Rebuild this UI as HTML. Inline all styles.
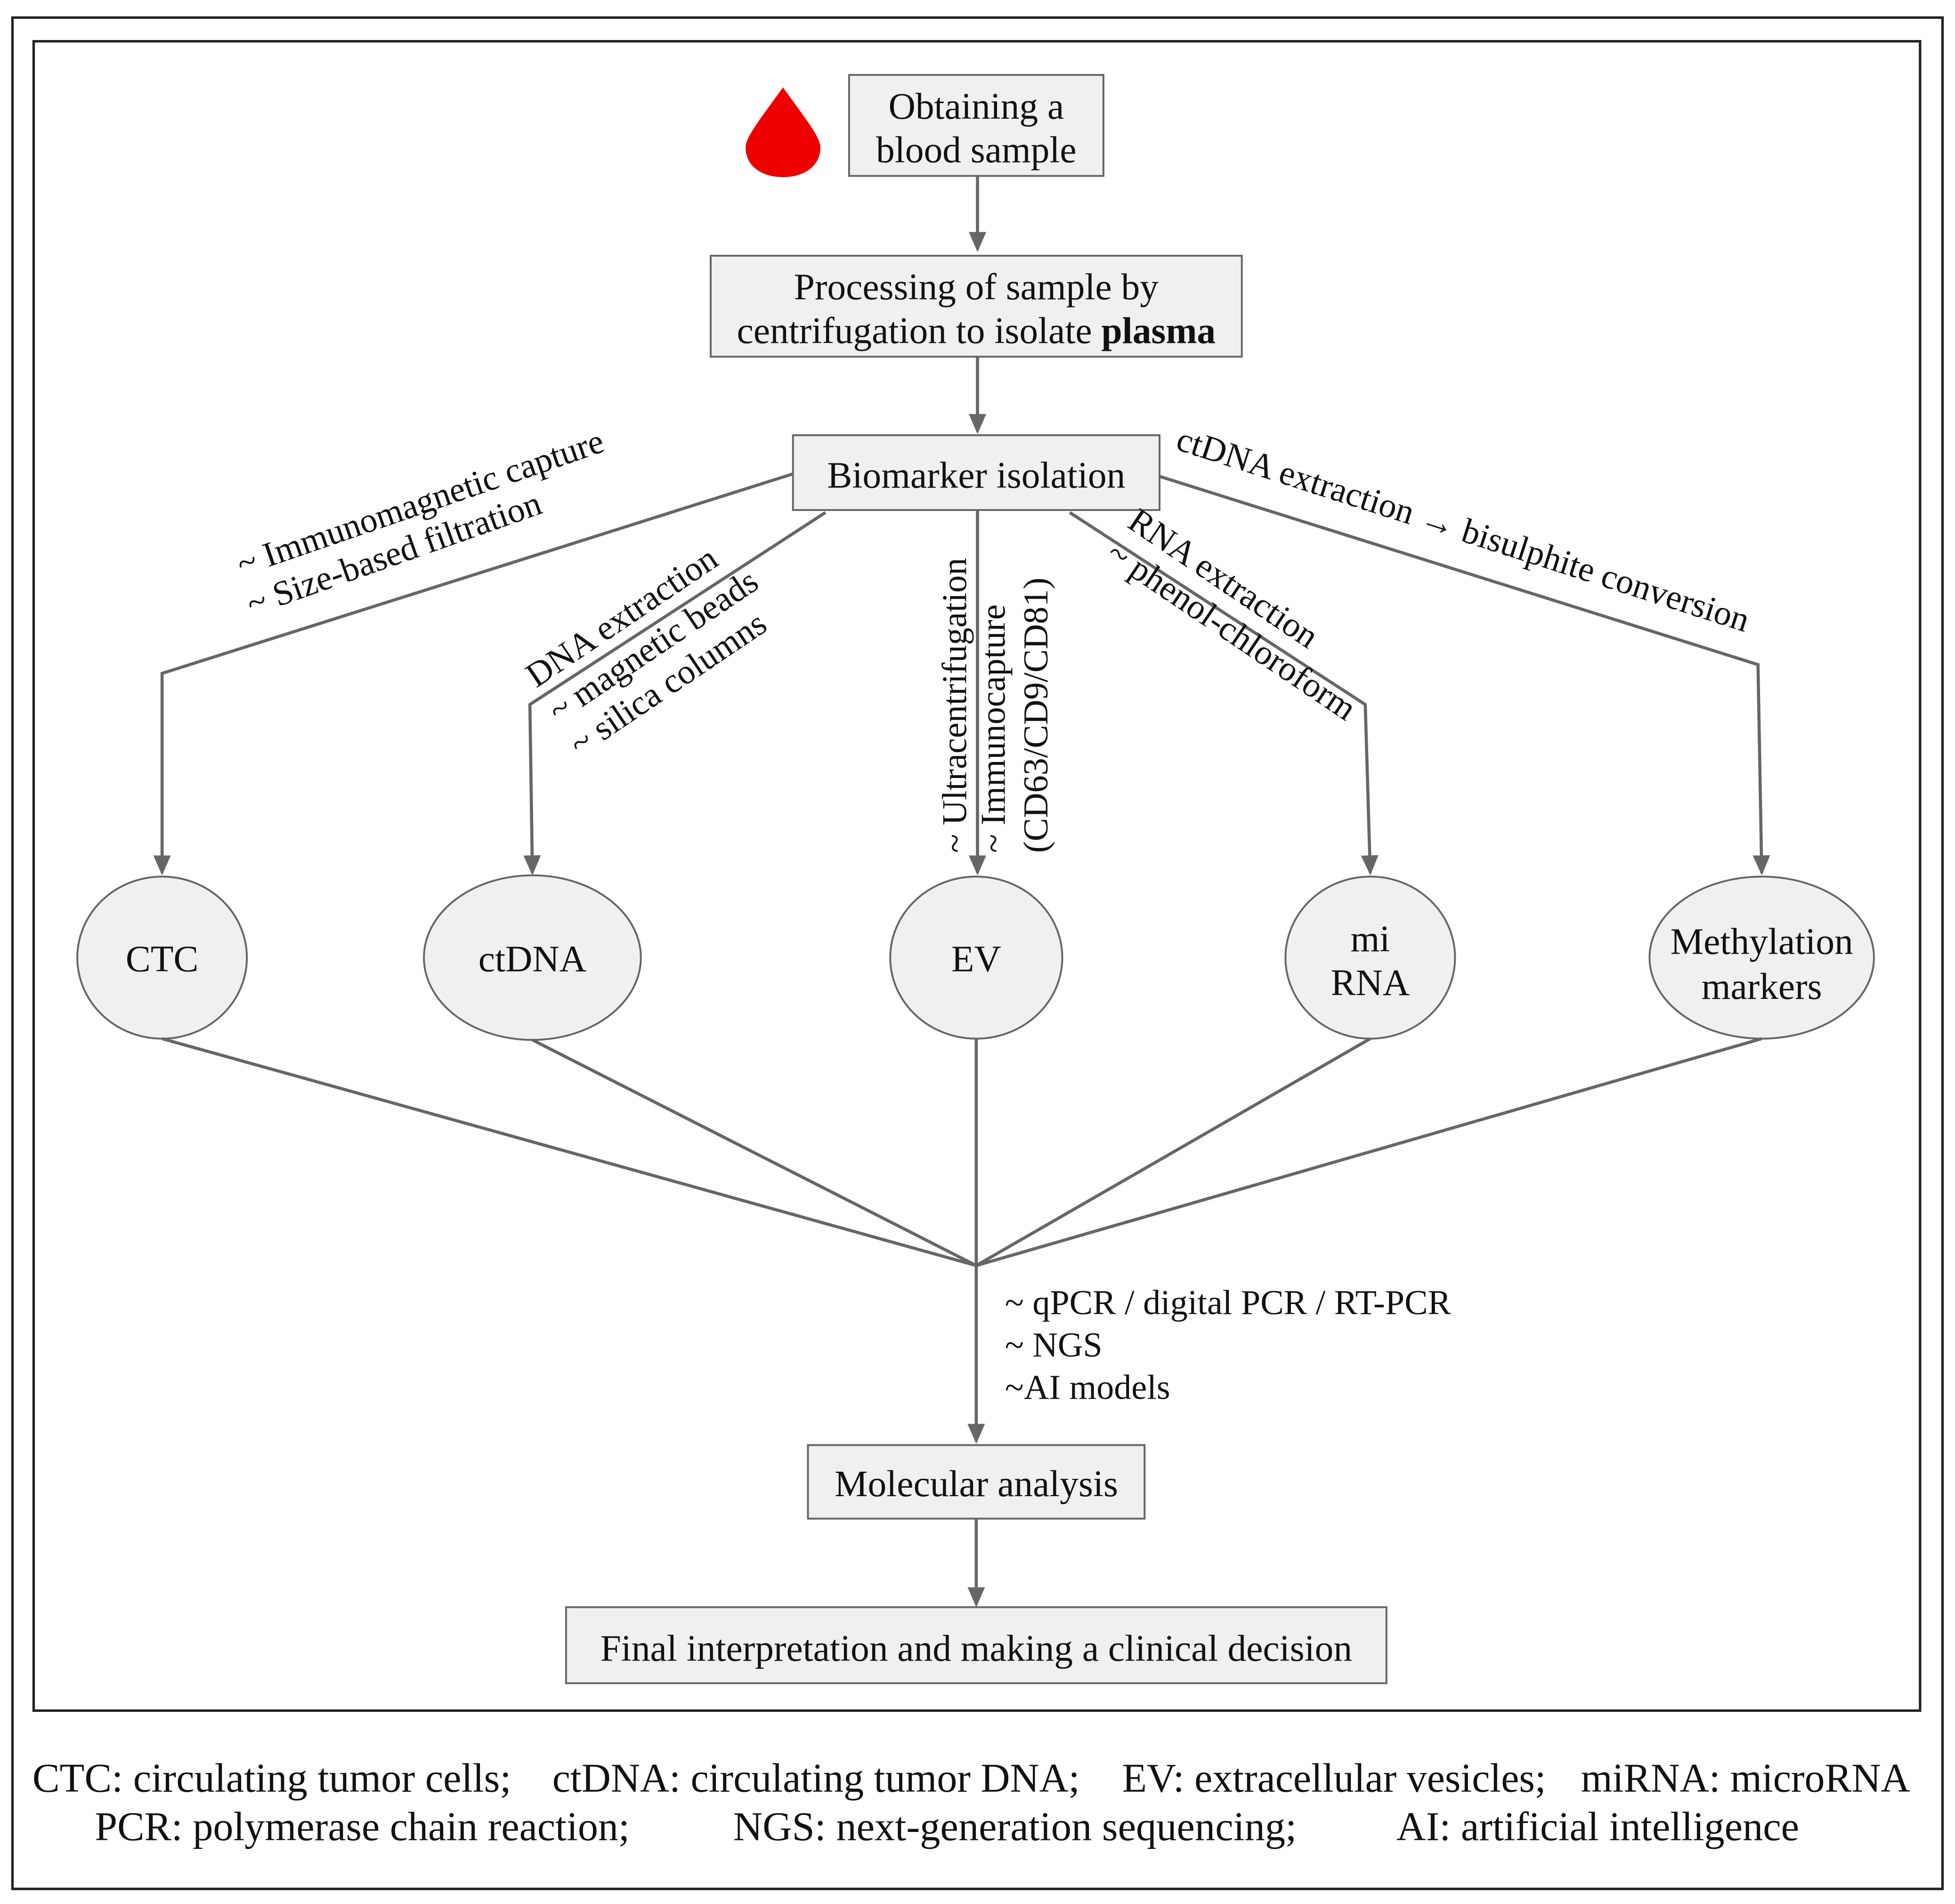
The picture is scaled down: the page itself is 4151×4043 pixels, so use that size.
<!DOCTYPE html>
<html><head><meta charset="utf-8"><style>
html,body{margin:0;padding:0;background:#fff;}
svg{display:block;}
text{font-family:"Liberation Serif",serif;fill:#111;font-size:30px;}
.l{font-size:28px;}
.g{font-size:33px;}
</style></head><body>
<svg width="4151" height="4043" viewBox="0 0 1568 1527" xmlns="http://www.w3.org/2000/svg">
<defs>
<marker id="ah" markerWidth="16" markerHeight="16" refX="14" refY="8" orient="auto" markerUnits="userSpaceOnUse">
<path d="M0,1 L16,8 L0,15 Z" fill="#666"/>
</marker>
</defs>
<rect x="0" y="0" width="1568" height="1527" fill="#fff"/>
<rect x="10" y="14" width="1548" height="1501" fill="none" stroke="#222" stroke-width="2"/>
<rect x="27" y="33" width="1513" height="1339" fill="none" stroke="#222" stroke-width="2"/>

<path d="M628,70 C610,95 598,110 598,118 C598,134 612,142 628,142 C644,142 658,134 658,118 C658,110 646,95 628,70 Z" fill="#ee0000"/>

<g fill="#f0f0f0" stroke="#666" stroke-width="1.5">
<rect x="681" y="60" width="204" height="81"/>
<rect x="570" y="205" width="426" height="81"/>
<rect x="636" y="349" width="294" height="60"/>
<rect x="648" y="1159" width="270" height="59"/>
<rect x="454" y="1289" width="658" height="61"/>
<ellipse cx="130" cy="768" rx="68" ry="65"/>
<ellipse cx="427" cy="768" rx="87" ry="66"/>
<ellipse cx="783" cy="768" rx="69" ry="65"/>
<ellipse cx="1099" cy="768" rx="68" ry="65"/>
<ellipse cx="1413" cy="768" rx="90" ry="65"/>
</g>

<g stroke="#666" stroke-width="2.5" fill="none">
<line x1="784" y1="141" x2="784" y2="200" marker-end="url(#ah)"/>
<line x1="784" y1="286" x2="784" y2="346" marker-end="url(#ah)"/>
<polyline points="636,380 130,540 130,700" marker-end="url(#ah)"/>
<polyline points="662,411 425,565 427,700" marker-end="url(#ah)"/>
<line x1="784" y1="409" x2="784" y2="700" marker-end="url(#ah)"/>
<polyline points="858,411 1095,565 1099,700" marker-end="url(#ah)"/>
<polyline points="930,382 1410,533 1413,700" marker-end="url(#ah)"/>
<line x1="130" y1="833" x2="783" y2="1015"/>
<line x1="427" y1="834" x2="783" y2="1015"/>
<line x1="783" y1="833" x2="783" y2="1015"/>
<line x1="1099" y1="833" x2="783" y2="1015"/>
<line x1="1413" y1="833" x2="783" y2="1015"/>
<line x1="783" y1="1015" x2="783" y2="1156" marker-end="url(#ah)"/>
<line x1="783" y1="1218" x2="783" y2="1287" marker-end="url(#ah)"/>
</g>

<g text-anchor="middle">
<text x="783" y="95">Obtaining a</text>
<text x="783" y="130">blood sample</text>
<text x="783" y="240">Processing of sample by</text>
<text x="783" y="275">centrifugation to isolate <tspan font-weight="bold">plasma</tspan></text>
<text x="783" y="391">Biomarker isolation</text>
<text x="130" y="779">CTC</text>
<text x="427" y="779">ctDNA</text>
<text x="783" y="779">EV</text>
<text x="1099" y="763">mi</text>
<text x="1099" y="798">RNA</text>
<text x="1413" y="765">Methylation</text>
<text x="1413" y="801">markers</text>
<text x="783" y="1200">Molecular analysis</text>
<text x="783" y="1332">Final interpretation and making a clinical decision</text>
</g>

<text class="l" transform="translate(194,462) rotate(-19)">~ Immunomagnetic capture</text>
<text class="l" transform="translate(202,494) rotate(-19.5)">~ Size-based filtration</text>
<text class="l" transform="translate(430,552) rotate(-34)">DNA extraction</text>
<text class="l" transform="translate(448,580) rotate(-34)">~ magnetic beads</text>
<text class="l" transform="translate(465,607) rotate(-34)">~ silica columns</text>
<text class="l" transform="translate(775,684) rotate(-90)">~ Ultracentrifugation</text>
<text class="l" transform="translate(806,684) rotate(-90)">~ Immunocapture</text>
<text class="l" transform="translate(840,684) rotate(-90)">(CD63/CD9/CD81)</text>
<text class="l" transform="translate(903,422) rotate(34)">RNA extraction</text>
<text class="l" transform="translate(886,448) rotate(34)">~ phenol-chloroform</text>
<text class="l" transform="translate(942,360) rotate(17.8)">ctDNA extraction → bisulphite conversion</text>

<text class="l" x="806" y="1054">~ qPCR / digital PCR / RT-PCR</text>
<text class="l" x="806" y="1088">~ NGS</text>
<text class="l" x="806" y="1122">~AI models</text>

<text class="g" x="26" y="1437" textLength="384" lengthAdjust="spacingAndGlyphs">CTC: circulating tumor cells;</text>
<text class="g" x="443" y="1437" textLength="423" lengthAdjust="spacingAndGlyphs">ctDNA: circulating tumor DNA;</text>
<text class="g" x="900" y="1437" textLength="340" lengthAdjust="spacingAndGlyphs">EV: extracellular vesicles;</text>
<text class="g" x="1268" y="1437" textLength="264" lengthAdjust="spacingAndGlyphs">miRNA: microRNA</text>
<text class="g" x="76" y="1476" textLength="429" lengthAdjust="spacingAndGlyphs">PCR: polymerase chain reaction;</text>
<text class="g" x="588" y="1476" textLength="452" lengthAdjust="spacingAndGlyphs">NGS: next-generation sequencing;</text>
<text class="g" x="1120" y="1476" textLength="323" lengthAdjust="spacingAndGlyphs">AI: artificial intelligence</text>
</svg>
</body></html>
